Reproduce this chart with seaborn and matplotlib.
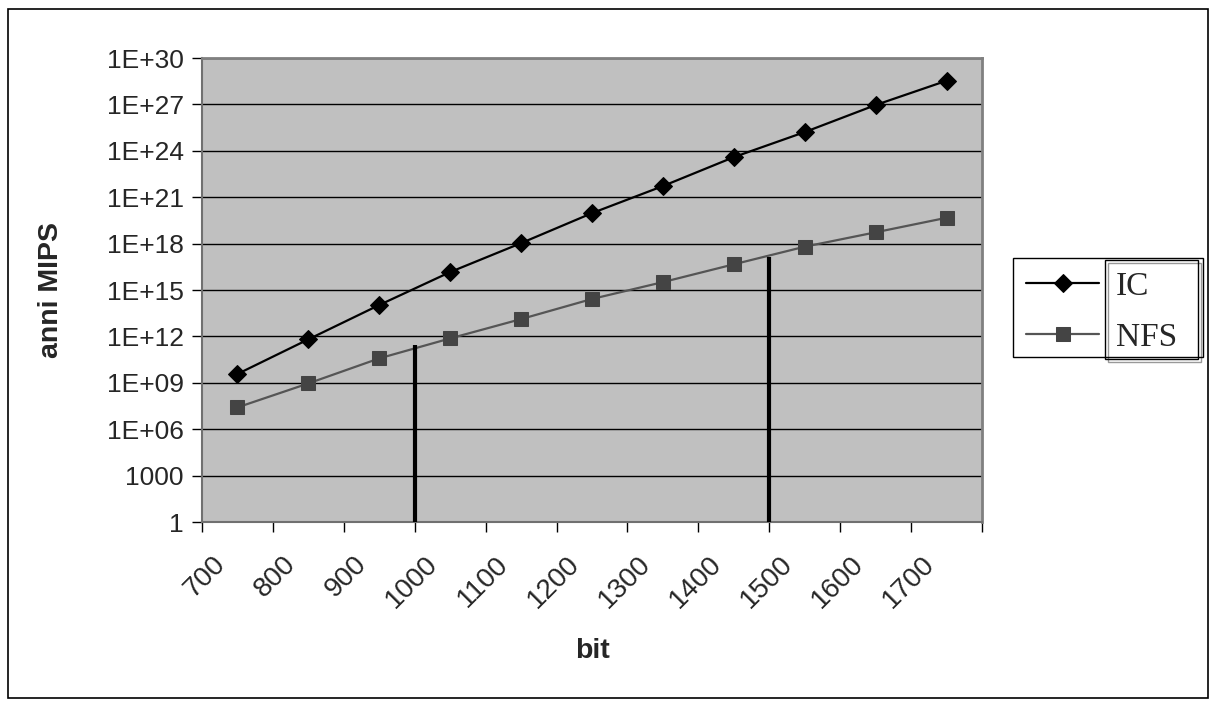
import numpy as np
import pandas as pd
import seaborn as sns
import matplotlib.pyplot as plt
from matplotlib.patches import Rectangle

# key sizes (bit) and estimated effort in MIPS-years (log10 values)
bits = [700, 800, 900, 1000, 1100, 1200, 1300, 1400, 1500, 1600, 1700]
ic_exp = [9.57, 11.81, 14.03, 16.16, 18.03, 19.97, 21.72, 23.59, 25.21, 26.96, 28.53]
nfs_exp = [7.41, 8.96, 10.58, 11.87, 13.12, 14.42, 15.51, 16.66, 17.80, 18.73, 19.67]

# vertical markers between categories (index position) and their top (log10)
vline_pos = [2.5, 7.5]
vline_top = [11.44, 17.13]

ytick_exp = [0, 3, 6, 9, 12, 15, 18, 21, 24, 27, 30]
ytick_labels = ['1', '1000', '1E+06', '1E+09', '1E+12', '1E+15', '1E+18',
                '1E+21', '1E+24', '1E+27', '1E+30']

df = pd.DataFrame({
    'pos': np.arange(len(bits)),
    'bit': bits,
    'IC': np.power(10.0, ic_exp),
    'NFS': np.power(10.0, nfs_exp),
})

sns.set_style('white')
plt.rcParams['font.family'] = ['Liberation Sans', 'DejaVu Sans']

W, H = 1217, 708
fig = plt.figure(figsize=(W / 100, H / 100), dpi=100)
ax = fig.add_axes([202 / W, 1 - 522 / H, 780 / W, 464 / H])
ax.set_facecolor('#c0c0c0')

ax.set_yscale('log')
ax.set_ylim(1, 1e30)
ax.set_xlim(-0.5, len(bits) - 0.5)

ax.set_yticks([10.0 ** e for e in ytick_exp])
ax.set_yticklabels(ytick_labels)
ax.minorticks_off()
ax.yaxis.grid(True, color='black', linewidth=1)
ax.set_axisbelow(True)

sns.lineplot(data=df, x='pos', y='IC', ax=ax, color='black', linewidth=1.6,
             marker='D', markersize=9.5, markerfacecolor='black',
             markeredgecolor='black', label='IC', zorder=4)
sns.lineplot(data=df, x='pos', y='NFS', ax=ax, color='#555555', linewidth=1.6,
             marker='s', markersize=10, markerfacecolor='#444444',
             markeredgecolor='#444444', label='NFS', zorder=3)

for p, t in zip(vline_pos, vline_top):
    ax.vlines(p, 1, 10.0 ** t, color='black', linewidth=3, zorder=5)

# category boundaries get tick marks; rotated labels end a little left of each centre
ax.set_xticks(np.arange(-0.5, len(bits)), minor=False)
ax.set_xticklabels([])
ax.set_xticks(np.arange(len(bits)) - 0.36, minor=True)
ax.set_xticklabels([str(b) for b in bits], minor=True, rotation=45,
                   ha='right', va='top', rotation_mode='anchor', fontsize=20)
ax.tick_params(axis='x', which='major', length=7, width=1, color='black', direction='out')
ax.tick_params(axis='x', which='minor', length=0, pad=21)
ax.tick_params(axis='y', length=7, width=1, color='black', direction='out', labelsize=19, pad=6)
ax.tick_params(bottom=True, left=True)

for s in ['left', 'bottom']:
    ax.spines[s].set_color('#707070')
    ax.spines[s].set_linewidth(1.5)
for s in ['top', 'right']:
    ax.spines[s].set_color('#808080')
    ax.spines[s].set_linewidth(2)

ax.set_xlabel('bit', fontsize=20.5, fontweight='bold', labelpad=18)
ax.set_ylabel('anni MIPS', fontsize=20.5, fontweight='bold', labelpad=31)

leg = ax.legend(loc='center left', bbox_to_anchor=(1016 / W, 1 - 312 / H),
                bbox_transform=fig.transFigure, frameon=False,
                prop={'family': 'Liberation Serif', 'size': 24},
                handlelength=2.2, handletextpad=0.5, borderpad=0.3,
                labelspacing=0.62, borderaxespad=0)

# legend boxes as drawn in the original (outer frame and inner text box)
fig.patches.append(Rectangle((1013 / W, 1 - 357 / H), 190 / W, 99 / H,
                             transform=fig.transFigure, facecolor='none',
                             edgecolor='black', linewidth=1, zorder=10))
fig.patches.append(Rectangle((1108 / W, 1 - 362 / H), 93 / W, 99 / H,
                             transform=fig.transFigure, facecolor='none',
                             edgecolor='#999999', linewidth=1, zorder=9))
fig.patches.append(Rectangle((1105 / W, 1 - 359 / H), 93 / W, 99 / H,
                             transform=fig.transFigure, facecolor='none',
                             edgecolor='black', linewidth=1, zorder=10))

# outer border of the chart
fig.patches.append(Rectangle((8 / W, 10 / H), 1200 / W, 689 / H,
                             transform=fig.transFigure, facecolor='none',
                             edgecolor='black', linewidth=1.2))

fig.savefig('out.png', dpi=100)
